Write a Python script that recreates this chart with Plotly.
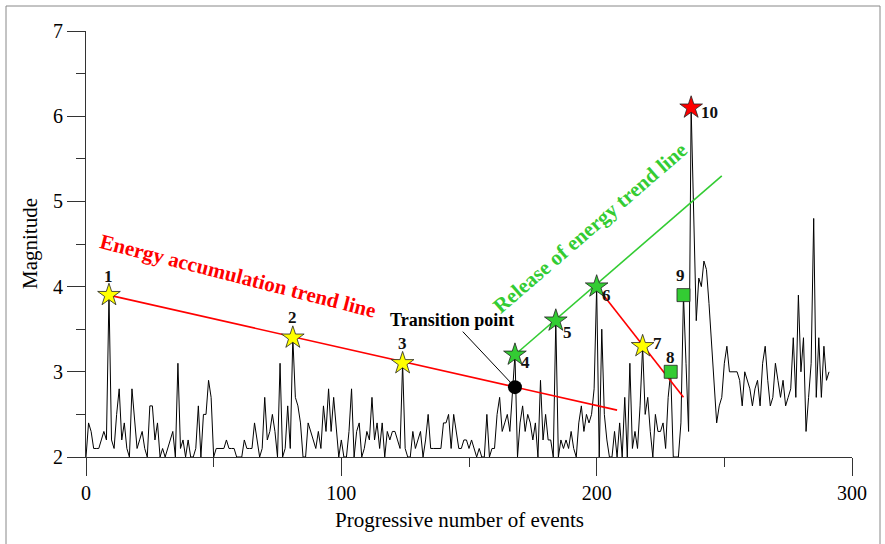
import plotly.graph_objects as go

# Magnitude of each event, in order of occurrence (event 0 .. 291)
magnitude = [
    2.0, 2.4, 2.3, 2.1, 2.1, 2.1, 2.2, 2.3, 2.2, 3.9,
    2.2, 2.1, 2.5, 2.8, 2.2, 2.4, 2.1, 2.0, 2.8, 2.4,
    2.1, 2.2, 2.3, 2.1, 2.0, 2.6, 2.6, 2.2, 2.4, 2.0,
    2.1, 2.0, 2.1, 2.2, 2.3, 2.0, 3.1, 2.1, 2.2, 2.0,
    2.2, 2.0, 2.0, 2.1, 2.6, 2.0, 2.5, 2.5, 2.9, 2.7,
    2.0, 2.1, 2.1, 2.1, 2.1, 2.2, 2.1, 2.1, 2.1, 2.0,
    2.0, 2.0, 2.2, 2.1, 2.1, 2.1, 2.4, 2.2, 2.0, 2.1,
    2.7, 2.2, 2.3, 2.5, 2.3, 2.0, 3.1, 2.0, 2.1, 2.6,
    2.1, 3.4, 2.7, 2.6, 2.4, 2.0, 2.0, 2.4, 2.3, 2.2,
    2.1, 2.3, 2.1, 2.6, 2.3, 2.8, 2.3, 2.7, 2.3, 2.0,
    2.2, 2.0, 2.0, 2.3, 2.8, 2.0, 2.3, 2.4, 2.0, 2.1,
    2.3, 2.2, 2.7, 2.2, 2.4, 2.1, 2.4, 2.0, 2.3, 2.2,
    2.3, 2.3, 2.2, 2.1, 3.1, 2.1, 2.0, 2.0, 2.3, 2.1,
    2.2, 2.3, 2.0, 2.2, 2.5, 2.1, 2.1, 2.1, 2.1, 2.1,
    2.4, 2.4, 2.5, 2.1, 2.5, 2.3, 2.1, 2.1, 2.2, 2.2,
    2.1, 2.2, 2.1, 2.0, 2.1, 2.0, 2.0, 2.5, 2.0, 2.1,
    2.1, 2.5, 2.7, 2.3, 2.4, 2.5, 2.3, 2.7, 3.2, 2.0,
    2.4, 2.6, 2.3, 2.5, 2.4, 2.2, 2.4, 2.0, 2.9, 2.2,
    2.5, 2.2, 2.2, 2.0, 3.6, 2.0, 2.2, 2.1, 2.2, 2.1,
    2.3, 2.1, 2.0, 2.4, 2.6, 2.3, 2.5, 2.4, 2.5, 2.8,
    4.0, 2.0, 3.5, 2.5, 2.2, 2.0, 2.0, 2.3, 2.0, 2.4,
    2.0, 2.7, 2.0, 3.1, 2.1, 2.3, 2.1, 2.6, 3.3, 2.5,
    2.7, 2.3, 2.0, 2.5, 2.3, 2.3, 2.4, 2.1, 2.7, 3.0,
    2.0, 2.0, 2.0, 2.4, 3.9, 3.1, 2.3, 6.1, 4.8, 3.6,
    4.1, 4.0, 4.3, 4.2, 3.8, 3.3, 2.9, 2.4, 2.6, 2.7,
    3.1, 3.3, 3.0, 3.0, 3.0, 3.0, 2.9, 2.6, 3.0, 2.9,
    2.8, 2.6, 2.8, 2.9, 2.6, 3.1, 3.3, 2.9, 2.6, 2.7,
    3.1, 2.9, 2.7, 2.9, 2.6, 2.7, 2.8, 3.4, 2.7, 3.9,
    3.0, 3.4, 2.3, 2.7, 3.1, 4.8, 2.7, 3.4, 2.7, 3.3,
    2.9, 3.0,
]
events = list(range(len(magnitude)))

# Numbered key events: index, label, marker symbol, fill colour
key_index = [9, 81, 124, 168, 184, 200, 218, 229, 234, 237]
key_label = ["1", "2", "3", "4", "5", "6", "7", "8", "9", "10"]
key_symbol = ["star", "star", "star", "star", "star", "star", "star",
              "square", "square", "star"]
key_color = ["#ffff00", "#ffff00", "#ffff00", "#33cc33", "#33cc33",
             "#33cc33", "#ffff00", "#33cc33", "#33cc33", "#ff0000"]
# label offsets in pixels (right, up)
key_dx = [0, 0, 0, 11, 12, 10, 15, 0, -3, 18]
key_dy = [19, 20, 20, -8, -12, -9, 3, 14, 20, -5]

# Trend lines (start / end points)
accum_x = [9, 208]
accum_y = [3.9, 2.55]
release_x = [168, 249]
release_y = [3.2, 5.3]
drop_x = [200, 234]
drop_y = [4.0, 2.7]

# Transition point
transition_x = 168
transition_y = 2.82

SERIF = "Liberation Serif, Times New Roman, serif"
GREEN = "#33cc33"
RED = "#ff0000"

fig = go.Figure()

fig.add_trace(go.Scatter(x=events, y=magnitude, mode="lines",
                         line=dict(color="black", width=1), hoverinfo="skip"))

fig.add_trace(go.Scatter(x=accum_x, y=accum_y, mode="lines",
                         line=dict(color=RED, width=1.6)))
fig.add_trace(go.Scatter(x=release_x, y=release_y, mode="lines",
                         line=dict(color=GREEN, width=1.6)))
fig.add_trace(go.Scatter(x=drop_x, y=drop_y, mode="lines",
                         line=dict(color=RED, width=1.6)))

fig.add_trace(go.Scatter(x=[transition_x], y=[transition_y], mode="markers",
                         marker=dict(color="black", size=14, symbol="circle",
                                     opacity=1)))

key_y = [magnitude[i] for i in key_index]
fig.add_trace(go.Scatter(
    x=key_index, y=key_y, mode="markers",
    marker=dict(symbol=key_symbol, color=key_color, opacity=1,
                size=[17 if s == "star" else 13 for s in key_symbol],
                line=dict(color="#222222", width=0.8)),
))

annotations = []
for i, lab, dx, dy in zip(key_index, key_label, key_dx, key_dy):
    annotations.append(dict(
        x=i, y=magnitude[i], text="<b>%s</b>" % lab, showarrow=False,
        xshift=dx, yshift=dy, font=dict(family=SERIF, size=17, color="#111111"),
    ))

annotations.append(dict(
    x=59.5, y=4.12, text="<b>Energy accumulation trend line</b>", showarrow=False,
    textangle=14.3, font=dict(family=SERIF, size=21, color=RED),
))
annotations.append(dict(
    x=197.4, y=4.69, text="<b>Release of energy trend line</b>", showarrow=False,
    textangle=-40.8, font=dict(family=SERIF, size=21, color=GREEN),
))
annotations.append(dict(
    x=transition_x, y=transition_y, text="<b>Transition point</b>",
    showarrow=True, arrowhead=0, arrowwidth=1, arrowcolor="black",
    ax=-63, ay=-67, standoff=7,
    font=dict(family=SERIF, size=18, color="black"),
))

# Axis titles
annotations.append(dict(
    xref="paper", yref="paper", x=(459 - 86) / 766, y=(457 - 520) / 426,
    xanchor="center", yanchor="middle",
    text="Progressive number of events", showarrow=False,
    font=dict(family=SERIF, size=21, color="black"),
))
annotations.append(dict(
    xref="paper", yref="paper", x=(30 - 86) / 766, y=0.5,
    xanchor="center", yanchor="middle",
    text="Magnitude", showarrow=False, textangle=-90,
    font=dict(family=SERIF, size=21, color="black"),
))

axis_common = dict(
    showgrid=False, zeroline=False, showline=True, linecolor="#333333",
    linewidth=1, ticks="outside", ticklen=18, tickcolor="#333333",
    tickfont=dict(family=SERIF, size=20, color="black"),
)

fig.update_layout(
    width=885, height=544,
    margin=dict(l=86, r=33, t=31, b=87),
    paper_bgcolor="white", plot_bgcolor="white",
    showlegend=False,
    xaxis=dict(range=[0, 300], tickvals=[0, 100, 200, 300],
               minor=dict(dtick=50, ticklen=9, ticks="outside", tickcolor="#333333"),
               **axis_common),
    yaxis=dict(range=[2, 7], dtick=1,
               minor=dict(dtick=0.5, ticklen=9, ticks="outside", tickcolor="#333333"),
               **axis_common),
    annotations=annotations,
    shapes=[dict(type="rect", xref="paper", yref="paper",
                 x0=(6 - 86) / 766, x1=(880 - 86) / 766,
                 y0=(457 - 560) / 426, y1=(457 - 6) / 426,
                 line=dict(color="#888888", width=1), layer="below")],
)

fig.write_html("out.html")
